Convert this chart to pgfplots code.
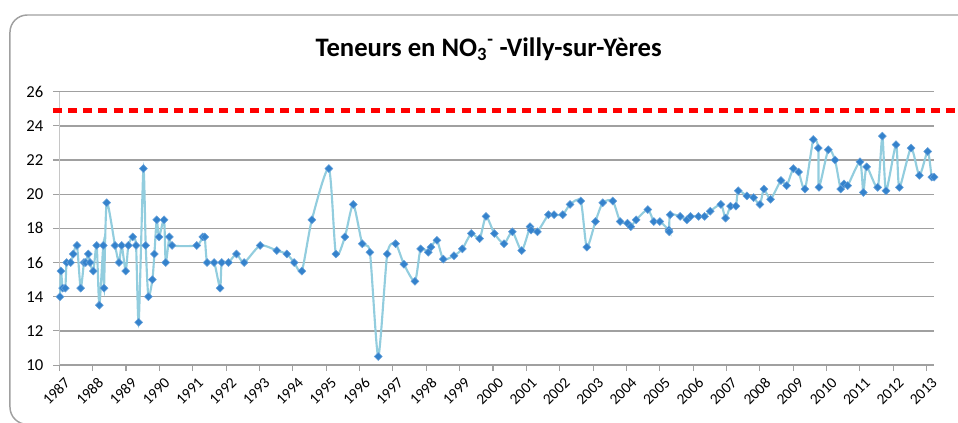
\documentclass[border=0pt]{standalone}
\usepackage{fontspec}
\setmainfont{Carlito}
\usepackage{pgfplots}
\pgfplotsset{compat=1.18}
\definecolor{linec}{RGB}{146,205,222}
\definecolor{markc}{RGB}{52,130,204}
\definecolor{gridc}{RGB}{160,160,160}
\definecolor{framec}{RGB}{160,160,160}
\begin{document}
\begin{tikzpicture}[x=1pt,y=1pt]
\draw[framec, line width=1.1pt, rounded corners=13pt] (-37pt,-44.5pt) rectangle (720pt,262.5pt);
\begin{axis}[
  at={(0,0)}, anchor=south west, scale only axis,
  width=656.25pt, height=205pt,
  xmin=1987, xmax=2013.23, ymin=10, ymax=26,
  xtick={1987,...,2013}, ytick={10,12,...,26},
  /pgf/number format/.cd, 1000 sep={}, assume math mode=true, /pgfplots/.cd,
  axis lines*=left,
  x axis line style={draw=gridc, line width=1pt},
  y axis line style={draw=gridc!60, line width=1pt},
  ymajorgrids, grid style={draw=gridc, line width=1pt},
  tick align=outside, major tick length=4.5pt,
  tick style={draw=gridc, line width=0.8pt},
  xticklabel style={rotate=45, anchor=north east, font=\fontsize{11.5}{13}\selectfont, inner sep=1pt, yshift=-4pt, xshift=0.5pt},
  yticklabel style={font=\fontsize{12.5}{14}\selectfont, xshift=-4pt},
  clip=false,
]
\addplot[red, line width=4.3pt, dash pattern=on 6.75pt off 4.6pt, forget plot] coordinates {(1986.81,24.9) (2013.94,24.9)};
\addplot[linec, line width=1.6pt, smooth, tension=0.4, mark=square*, mark size=2.1pt,
  mark options={rotate=45, fill=markc, draw=markc!75!white, line width=0.4pt, solid}] table {
x y
1987.02 14.0
1987.05 15.5
1987.10 14.5
1987.18 14.5
1987.22 16.0
1987.34 16.0
1987.42 16.5
1987.53 17.0
1987.64 14.5
1987.74 16.0
1987.79 16.0
1987.87 16.5
1987.92 16.0
1988.02 15.5
1988.12 17.0
1988.20 13.5
1988.32 17.0
1988.34 14.5
1988.42 19.5
1988.67 17.0
1988.79 16.0
1988.87 17.0
1988.99 15.5
1989.07 17.0
1989.20 17.5
1989.30 17.0
1989.38 12.5
1989.52 21.5
1989.59 17.0
1989.67 14.0
1989.79 15.0
1989.85 16.5
1989.92 18.5
1989.99 17.5
1990.14 18.5
1990.19 16.0
1990.30 17.5
1990.38 17.0
1991.12 17.0
1991.30 17.5
1991.36 17.5
1991.43 16.0
1991.64 16.0
1991.82 14.5
1991.87 16.0
1992.07 16.0
1992.31 16.5
1992.54 16.0
1993.02 17.0
1993.52 16.7
1993.82 16.5
1994.04 16.0
1994.27 15.5
1994.57 18.5
1995.08 21.5
1995.29 16.5
1995.56 17.5
1995.81 19.4
1996.08 17.1
1996.31 16.6
1996.56 10.5
1996.83 16.5
1997.08 17.1
1997.33 15.9
1997.66 14.9
1997.83 16.8
1998.06 16.6
1998.14 16.9
1998.32 17.3
1998.51 16.2
1998.83 16.4
1999.08 16.8
1999.35 17.7
1999.60 17.4
1999.79 18.7
2000.04 17.7
2000.33 17.1
2000.58 17.8
2000.86 16.7
2001.11 18.1
2001.14 17.9
2001.33 17.8
2001.66 18.8
2001.83 18.8
2002.09 18.8
2002.31 19.4
2002.63 19.6
2002.81 16.9
2003.07 18.4
2003.29 19.5
2003.59 19.6
2003.81 18.4
2004.03 18.3
2004.13 18.1
2004.29 18.5
2004.64 19.1
2004.82 18.4
2005.00 18.4
2005.27 17.9
2005.28 17.8
2005.31 18.8
2005.61 18.7
2005.81 18.5
2005.92 18.7
2006.16 18.7
2006.34 18.7
2006.51 19.0
2006.83 19.4
2006.97 18.6
2007.12 19.3
2007.28 19.3
2007.35 20.2
2007.61 19.9
2007.81 19.8
2008.00 19.4
2008.12 20.3
2008.32 19.7
2008.63 20.8
2008.80 20.5
2009.00 21.5
2009.16 21.3
2009.35 20.3
2009.60 23.2
2009.75 22.7
2009.77 20.4
2010.05 22.6
2010.25 22.0
2010.42 20.3
2010.52 20.6
2010.63 20.5
2011.00 21.9
2011.10 20.1
2011.20 21.6
2011.53 20.4
2011.67 23.4
2011.78 20.2
2012.08 22.9
2012.18 20.4
2012.53 22.7
2012.78 21.1
2013.03 22.5
2013.15 21.0
2013.22 21.0
};
\end{axis}
\node[anchor=base, font=\bfseries\fontsize{20}{22}\selectfont] at (322pt,231.75pt)
  {Teneurs en NO\textsubscript{3}\textsuperscript{-}\ -Villy-sur-Yères};
\pgfresetboundingbox
\useasboundingbox (-44.475pt,-42.75pt) rectangle (673.95pt,273.75pt);
\end{tikzpicture}
\end{document}
